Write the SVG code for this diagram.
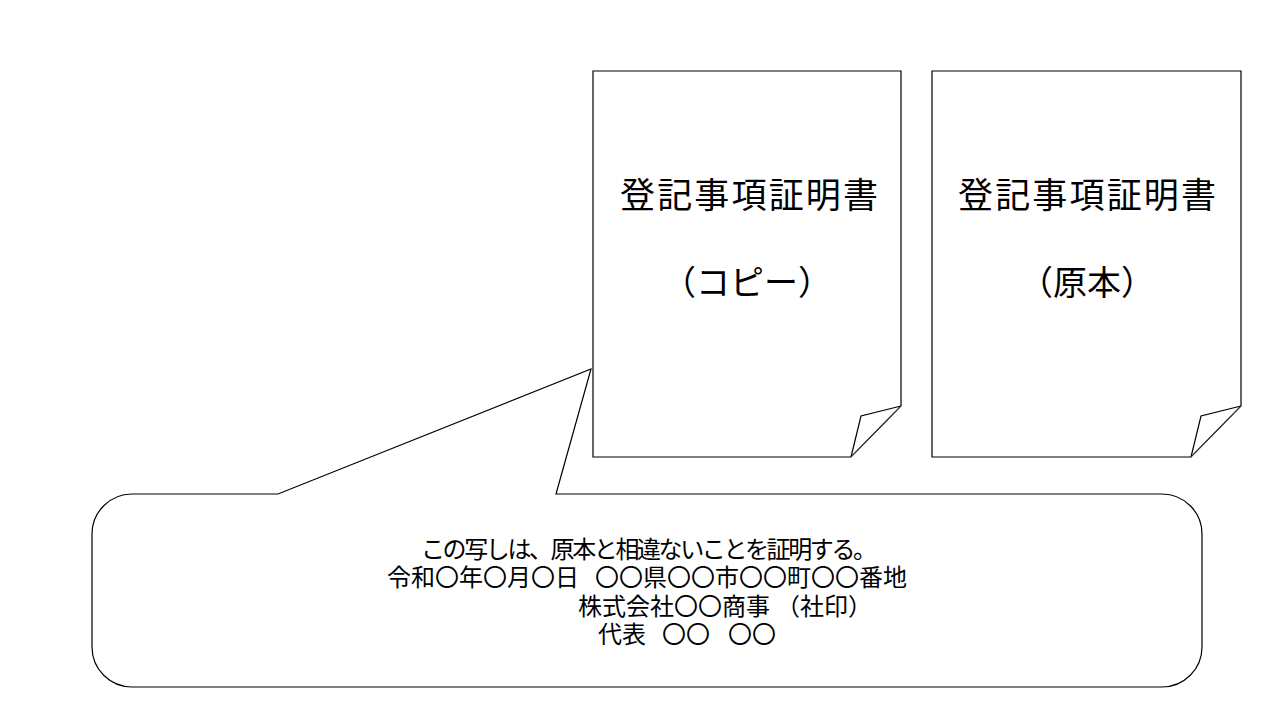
<svg xmlns="http://www.w3.org/2000/svg" width="1280" height="720" viewBox="0 0 1280 720">
<style>
.shape{fill:#fff;stroke:#000;stroke-width:1.2;stroke-linejoin:miter}
.fold{fill:none;stroke:#000;stroke-width:1.2}
.crease{fill:none;stroke:#555;stroke-width:0.7}
.title{font-family:"Liberation Sans","Noto Sans CJK JP",sans-serif;font-size:35px;fill:#000;text-anchor:middle}
.sub{font-family:"Liberation Sans","Noto Sans CJK JP",sans-serif;font-size:34px;fill:#000;text-anchor:middle}
.note{font-family:"Liberation Sans","Noto Sans CJK JP",sans-serif;font-size:24px;fill:#000}
</style>
<rect width="1280" height="720" fill="#fff"/>
<g id="copy-doc">
<path class="shape" d="M593,71 H901 V406 L851,457 H593 Z"/>
<path class="fold" d="M901,406 L861,416 L851,457"/>
<path class="crease" d="M851,457 L901,406"/>
<text class="title" x="749" y="208" textLength="258" lengthAdjust="spacing">登記事項証明書</text>
<text class="sub" x="747" y="295">（コピー）</text>
</g>
<g id="original-doc">
<path class="shape" d="M932,71 H1241 V406 L1191,457 H932 Z"/>
<path class="fold" d="M1241,406 L1201,416 L1191,457"/>
<path class="crease" d="M1191,457 L1241,406"/>
<text class="title" x="1087" y="208" textLength="258" lengthAdjust="spacing">登記事項証明書</text>
<text class="sub" x="1087" y="295">（原本）</text>
</g>
<g id="callout">
<path class="shape" d="M132,494 H278 L591,369 L556,494 H1162 A40,40 0 0 1 1202,534 V647 A40,40 0 0 1 1162,687 H132 A40,40 0 0 1 92,647 V534 A40,40 0 0 1 132,494 Z"/>
<text class="note" x="421" y="558" textLength="456" lengthAdjust="spacing">この写しは、原本と相違ないことを証明する。</text>
<text class="note" x="387" y="586">令和〇年〇月〇日<tspan x="595">〇〇県〇〇市〇〇町〇〇番地</tspan></text>
<text class="note" x="578" y="615">株式会社〇〇商事<tspan x="776">（社印）</tspan></text>
<text class="note" x="598" y="643">代表<tspan x="662">〇〇</tspan><tspan x="728">〇〇</tspan></text>
</g>
</svg>
